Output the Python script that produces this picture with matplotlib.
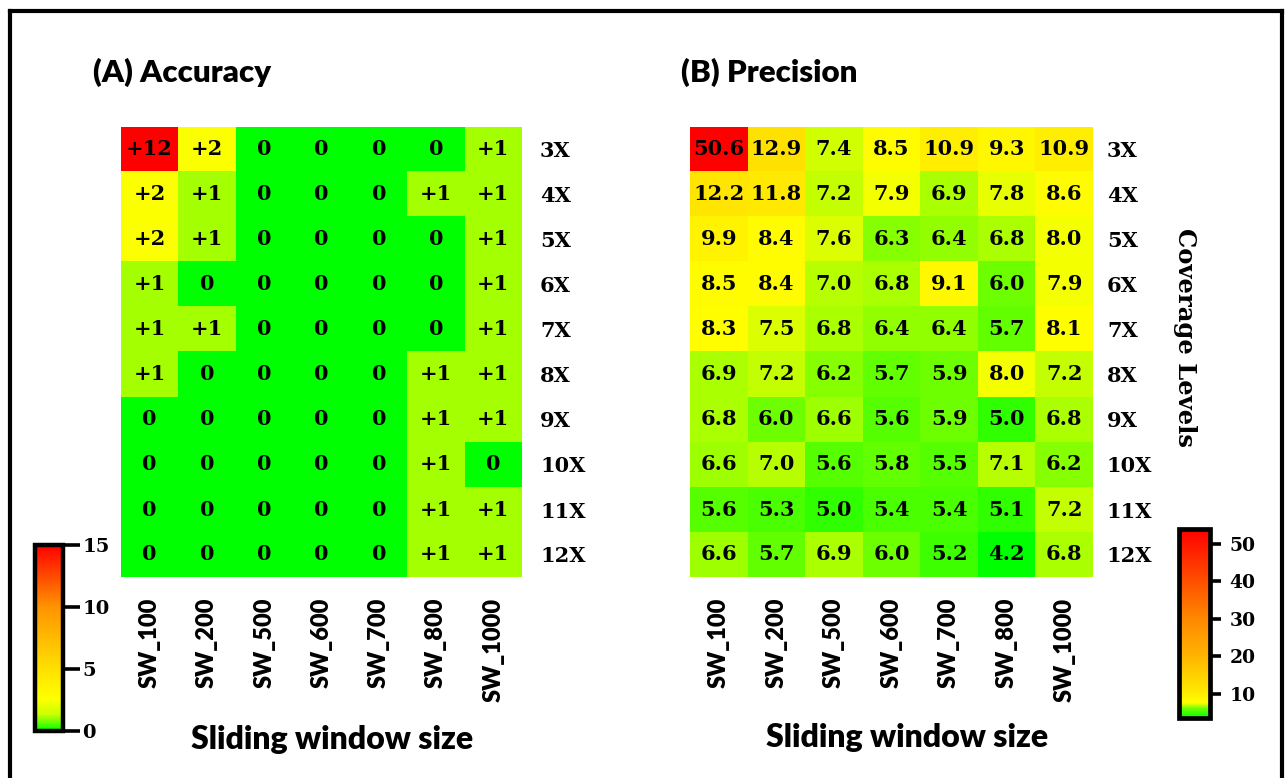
import numpy as np
import matplotlib
matplotlib.use("Agg")
import matplotlib.pyplot as plt
from matplotlib.colors import LinearSegmentedColormap, Normalize
from matplotlib.cm import ScalarMappable
from matplotlib.lines import Line2D

# ---- data -------------------------------------------------------------
window_sizes = ["SW_100", "SW_200", "SW_500", "SW_600", "SW_700", "SW_800", "SW_1000"]
coverage_levels = ["3X", "4X", "5X", "6X", "7X", "8X", "9X", "10X", "11X", "12X"]

accuracy_gain = [
    [12, 2, 0, 0, 0, 0, 1],
    [2, 1, 0, 0, 0, 1, 1],
    [2, 1, 0, 0, 0, 0, 1],
    [1, 0, 0, 0, 0, 0, 1],
    [1, 1, 0, 0, 0, 0, 1],
    [1, 0, 0, 0, 0, 1, 1],
    [0, 0, 0, 0, 0, 1, 1],
    [0, 0, 0, 0, 0, 1, 0],
    [0, 0, 0, 0, 0, 1, 1],
    [0, 0, 0, 0, 0, 1, 1],
]

precision = [
    [50.6, 12.9, 7.4, 8.5, 10.9, 9.3, 10.9],
    [12.2, 11.8, 7.2, 7.9, 6.9, 7.8, 8.6],
    [9.9, 8.4, 7.6, 6.3, 6.4, 6.8, 8.0],
    [8.5, 8.4, 7.0, 6.8, 9.1, 6.0, 7.9],
    [8.3, 7.5, 6.8, 6.4, 6.4, 5.7, 8.1],
    [6.9, 7.2, 6.2, 5.7, 5.9, 8.0, 7.2],
    [6.8, 6.0, 6.6, 5.6, 5.9, 5.0, 6.8],
    [6.6, 7.0, 5.6, 5.8, 5.5, 7.1, 6.2],
    [5.6, 5.3, 5.0, 5.4, 5.4, 5.1, 7.2],
    [6.6, 5.7, 6.9, 6.0, 5.2, 4.2, 6.8],
]

acc_ticks = [0, 5, 10, 15]
prec_ticks = [10, 20, 30, 40, 50]

# ---- styling helpers --------------------------------------------------
W, H = 1286, 778
SERIF = "DejaVu Serif"
SANS = "Lato"


def frac_box(x0, y0, x1, y1):
    """Pixel box (top-left origin) -> figure-fraction rect."""
    return [x0 / W, 1 - y1 / H, (x1 - x0) / W, (y1 - y0) / H]


def piecewise_cmap(name, stops, vmin, vmax):
    pts = [((v - vmin) / (vmax - vmin), c) for v, c in stops]
    return LinearSegmentedColormap.from_list(name, pts)


acc = np.array(accuracy_gain, dtype=float)
prec = np.array(precision, dtype=float)

acc_cmap = piecewise_cmap("acc", [(0, "#00ff00"), (1, "#a6ff00"), (2, "#ffff00"),
                                  (12, "#ff0000")], 0, 12)
acc_norm = Normalize(0, 12)
prec_cmap = piecewise_cmap("prec", [(4.2, "#00ff00"), (8.0, "#ffff00"),
                                    (50.6, "#ff0000")], 4.2, 50.6)
prec_norm = Normalize(4.2, 50.6)

# legend bars use a smoother green-yellow-orange-red ramp
acc_bar_cmap = piecewise_cmap("accbar", [(0, "#00ff00"), (1.3, "#c8ff00"), (2.6, "#ffff00"),
                                         (5, "#ffe000"), (10, "#ff9400"), (15, "#ff0000")], 0, 15)
prec_bar_cmap = piecewise_cmap("precbar", [(3.5, "#00ff00"), (6.0, "#70ff00"), (7.5, "#ffff00"),
                                           (10, "#ffec00"), (20, "#ffb400"), (30, "#ff8800"),
                                           (40, "#ff5000"), (54, "#ff0000")], 3.5, 54)

fig = plt.figure(figsize=(W / 100, H / 100), dpi=100)


def draw_heatmap(ax, values, cmap, norm, labels, ylabel_pad):
    ax.imshow(values, cmap=cmap, norm=norm, aspect="auto", interpolation="nearest")
    nrows, ncols = values.shape
    for i in range(nrows):
        for j in range(ncols):
            ax.text(j, i, labels[i][j], ha="center", va="center",
                    fontsize=15, fontfamily=SERIF, fontweight="bold", color="black")
    ax.set_xticks(range(ncols))
    ax.set_xticklabels(window_sizes, rotation=90, fontsize=17,
                       fontfamily=SANS, fontweight="heavy")
    ax.set_yticks(range(nrows))
    ax.set_yticklabels(coverage_levels, fontsize=15, fontfamily=SERIF, fontweight="bold")
    ax.yaxis.tick_right()
    ax.tick_params(axis="x", length=0, pad=15)
    ax.tick_params(axis="y", length=0, pad=ylabel_pad)
    for s in ax.spines.values():
        s.set_visible(False)


# (A) accuracy
axA = fig.add_axes(frac_box(121, 127, 522, 577))
acc_labels = [[("+%d" % v) if v > 0 else "0" for v in row] for row in accuracy_gain]
draw_heatmap(axA, acc, acc_cmap, acc_norm, acc_labels, 13)

# (B) precision
axB = fig.add_axes(frac_box(690, 127, 1093, 577))
prec_labels = [["%.1f" % v for v in row] for row in precision]
draw_heatmap(axB, prec, prec_cmap, prec_norm, prec_labels, 10)

# panel titles and axis titles
fig.text(93 / W, 1 - 72 / H, "(A) Accuracy", fontsize=22.5, fontfamily=SANS,
         fontweight="heavy", ha="left", va="center")
fig.text(681 / W, 1 - 72 / H, "(B) Precision", fontsize=22.5, fontfamily=SANS,
         fontweight="heavy", ha="left", va="center")
fig.text(332 / W, 1 - 740 / H, "Sliding window size", fontsize=23, fontfamily=SANS,
         fontweight="heavy", ha="center", va="center")
fig.text(907 / W, 1 - 738 / H, "Sliding window size", fontsize=23, fontfamily=SANS,
         fontweight="heavy", ha="center", va="center")
fig.text(1185 / W, 1 - 338 / H, "Coverage Levels", fontsize=17.5, fontfamily=SERIF,
         fontweight="bold", rotation=270, ha="center", va="center")

# colour legends
caxA = fig.add_axes(frac_box(35, 545, 63, 731))
cbA = fig.colorbar(ScalarMappable(norm=Normalize(0, 15), cmap=acc_bar_cmap), cax=caxA,
                   ticks=acc_ticks)
cbA.outline.set_linewidth(3.2)
caxA.tick_params(length=12, width=2.6, pad=2, labelsize=14)
for t in caxA.get_yticklabels():
    t.set_fontfamily(SERIF)
    t.set_fontweight("bold")

caxB = fig.add_axes(frac_box(1179, 529, 1210, 718))
cbB = fig.colorbar(ScalarMappable(norm=Normalize(3.5, 54), cmap=prec_bar_cmap), cax=caxB,
                   ticks=prec_ticks)
cbB.outline.set_linewidth(3.4)
caxB.tick_params(length=8, width=2.6, pad=6, labelsize=13.5)
for t in caxB.get_yticklabels():
    t.set_fontfamily(SERIF)
    t.set_fontweight("bold")

# surrounding frame (open at the bottom)
frame_kw = dict(color="black", linewidth=3.0, transform=fig.transFigure)
fig.add_artist(Line2D([9.5 / W, 9.5 / W], [0, 1 - 11 / H], **frame_kw))
fig.add_artist(Line2D([9.5 / W, 1281.5 / W], [1 - 11 / H, 1 - 11 / H], **frame_kw))
fig.add_artist(Line2D([1281.5 / W, 1281.5 / W], [0, 1 - 11 / H], **frame_kw))

fig.savefig("out.png", dpi=100, facecolor="white")
